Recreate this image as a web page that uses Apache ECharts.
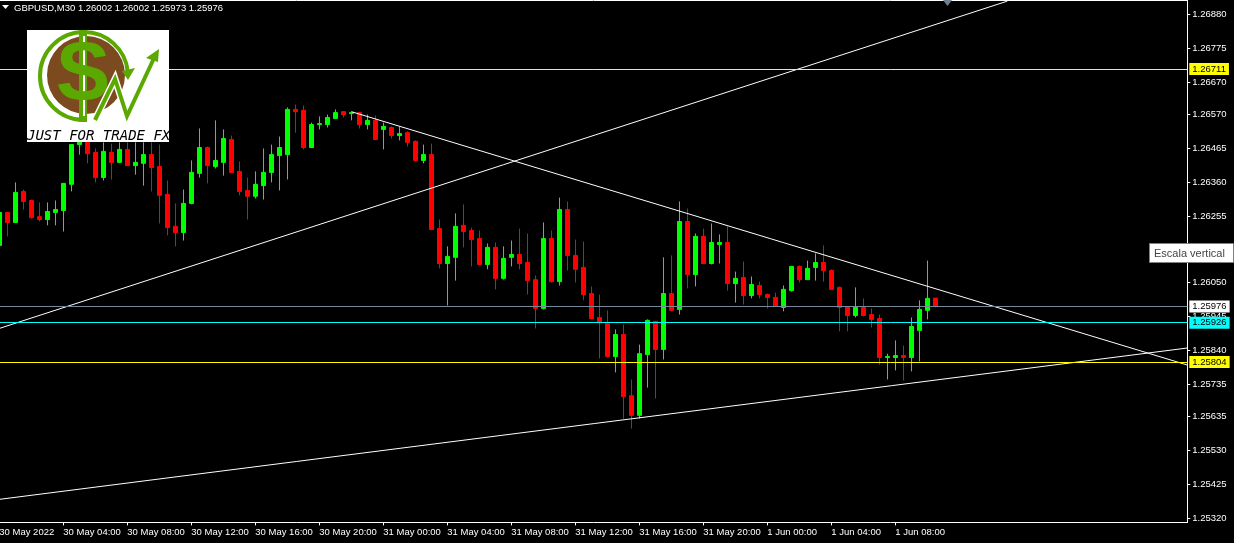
<!DOCTYPE html>
<html><head><meta charset="utf-8">
<style>html,body{margin:0;padding:0;background:#000}#c{width:1234px;height:543px}</style>
<script src="https://cdn.jsdelivr.net/npm/echarts@6/dist/echarts.min.js"></script>
</head><body><div id="c"></div>
<script>
const opens=[1.26165,1.26267,1.26236,1.26332,1.26304,1.26254,1.26245,1.26267,1.26273,1.26354,1.26477,1.26484,1.26453,1.26375,1.26453,1.26422,1.26462,1.26412,1.26419,1.26446,1.26409,1.26323,1.26224,1.26205,1.26295,1.26388,1.26468,1.26409,1.26422,1.26493,1.26394,1.26335,1.26317,1.26350,1.26391,1.26443,1.26446,1.26586,1.26583,1.26468,1.26539,1.26539,1.26558,1.26579,1.26573,1.26576,1.26539,1.26552,1.26524,1.26530,1.26505,1.26514,1.26487,1.26428,1.26446,1.26217,1.26109,1.26128,1.26227,1.26211,1.26186,1.26106,1.26159,1.26063,1.26128,1.26137,1.26112,1.26059,1.25970,1.26186,1.26053,1.26276,1.26134,1.26097,1.26016,1.25942,1.25923,1.25821,1.25889,1.25700,1.25639,1.25827,1.25930,1.25843,1.26016,1.25967,1.26239,1.26075,1.26193,1.26109,1.26168,1.26174,1.26047,1.26066,1.26010,1.26041,1.26013,1.26004,1.25973,1.26025,1.26100,1.26059,1.26097,1.26112,1.26087,1.26035,1.25976,1.25948,1.25973,1.25951,1.25939,1.25818,1.25818,1.25824,1.25818,1.25902,1.25964,1.26002];
const closes=[1.26267,1.26236,1.26329,1.26301,1.26251,1.26245,1.26270,1.26276,1.26357,1.26477,1.26484,1.26449,1.26375,1.26456,1.26422,1.26462,1.26412,1.26422,1.26446,1.26406,1.26320,1.26220,1.26205,1.26295,1.26391,1.26468,1.26412,1.26428,1.26496,1.26391,1.26332,1.26317,1.26354,1.26391,1.26446,1.26468,1.26586,1.26579,1.26468,1.26539,1.26542,1.26561,1.26576,1.26570,1.26576,1.26539,1.26552,1.26493,1.26533,1.26505,1.26511,1.26484,1.26428,1.26446,1.26214,1.26109,1.26131,1.26224,1.26208,1.26183,1.26106,1.26159,1.26063,1.26125,1.26137,1.26109,1.26056,1.25970,1.26186,1.26053,1.26276,1.26134,1.26091,1.26013,1.25939,1.25927,1.25821,1.25889,1.25697,1.25639,1.25830,1.25933,1.25843,1.26016,1.25964,1.26239,1.26075,1.26193,1.26109,1.26174,1.26174,1.26047,1.26063,1.26010,1.26044,1.26013,1.26004,1.25976,1.26029,1.26100,1.26059,1.26094,1.26112,1.26087,1.26029,1.25973,1.25948,1.25973,1.25948,1.25936,1.25818,1.25821,1.25824,1.25818,1.25914,1.25967,1.26001,1.25976];
const lows=[1.26165,1.26193,1.26236,1.26276,1.26248,1.26239,1.26227,1.26227,1.26208,1.26332,1.26446,1.26419,1.26360,1.26366,1.26369,1.26422,1.26412,1.26384,1.26350,1.26332,1.26233,1.26196,1.26162,1.26180,1.26292,1.26375,1.26357,1.26403,1.26381,1.26391,1.26320,1.26245,1.26310,1.26307,1.26360,1.26335,1.26369,1.26514,1.26462,1.26468,1.26524,1.26530,1.26558,1.26561,1.26552,1.26527,1.26524,1.26493,1.26462,1.26496,1.26490,1.26471,1.26425,1.26419,1.26214,1.26094,1.25979,1.26056,1.26159,1.26100,1.26106,1.26091,1.26029,1.26059,1.26100,1.26091,1.26013,1.25908,1.25967,1.26050,1.26041,1.26087,1.26050,1.25995,1.25939,1.25815,1.25818,1.25772,1.25629,1.25598,1.25629,1.25725,1.25691,1.25812,1.25961,1.25951,1.26032,1.26038,1.26109,1.26106,1.26109,1.26025,1.25988,1.25982,1.26001,1.26001,1.25970,1.25976,1.25961,1.26022,1.26050,1.26059,1.26056,1.26053,1.26029,1.25899,1.25899,1.25942,1.25945,1.25911,1.25796,1.25750,1.25778,1.25747,1.25775,1.25806,1.25936,1.25973];
const highs=[1.26267,1.26267,1.26360,1.26338,1.26307,1.26298,1.26298,1.26304,1.26357,1.26477,1.26496,1.26496,1.26465,1.26484,1.26480,1.26484,1.26484,1.26484,1.26484,1.26484,1.26477,1.26366,1.26295,1.26338,1.26428,1.26527,1.26471,1.26552,1.26524,1.26505,1.26425,1.26375,1.26394,1.26465,1.26477,1.26502,1.26592,1.26601,1.26598,1.26545,1.26564,1.26570,1.26586,1.26579,1.26576,1.26576,1.26570,1.26567,1.26545,1.26533,1.26533,1.26518,1.26490,1.26477,1.26480,1.26245,1.26162,1.26264,1.26292,1.26220,1.26211,1.26171,1.26174,1.26162,1.26180,1.26217,1.26202,1.26072,1.26236,1.26211,1.26313,1.26301,1.26183,1.26177,1.26038,1.26013,1.25964,1.25905,1.25920,1.25750,1.25858,1.25936,1.25930,1.26128,1.26134,1.26301,1.26279,1.26202,1.26217,1.26233,1.26199,1.26224,1.26084,1.26115,1.26069,1.26053,1.26016,1.26019,1.26041,1.26100,1.26103,1.26118,1.26140,1.26165,1.26091,1.26038,1.25976,1.26035,1.26001,1.25970,1.25951,1.25830,1.25871,1.25855,1.25942,1.25995,1.26118,1.26002];
const priceTicks=[1.26880,1.26775,1.26670,1.26570,1.26465,1.26360,1.26255,1.26150,1.26050,1.25945,1.25840,1.25735,1.25635,1.25530,1.25425,1.25320];
const trendA=[[0,1.25908],[126,1.26921]];
const trendB=[[44,1.26579],[148.5,1.25791]];
const trendC=[[0,1.25379],[148.5,1.25849]];
const levels=[
  {value:1.26711,color:'#ffff00',bg:'#ffff00',fg:'#000'},
  {value:1.25976,color:'#778899',bg:'#ffffff',fg:'#000'},
  {value:1.25926,color:'#00ffff',bg:'#00ffff',fg:'#000'},
  {value:1.25804,color:'#ffff00',bg:'#ffff00',fg:'#000'}
];
const months=['May','Jun'];
const categories=[];
for(let k=0;k<149;k++){
  const h=k/2, day=30+Math.floor(h/24), hr=Math.floor(h%24), mi=(k%2)?'30':'00';
  const dn=day>31?day-31:day, mo=day>31?months[1]:months[0];
  categories.push(k===0?'30 May 2022':dn+' '+mo+' '+String(hr).padStart(2,'0')+':'+mi);
}
const labelled=(i)=>i%8===0&&i<=112;
const FONT='"Liberation Sans",sans-serif';
const ohlc=opens.map((o,i)=>[o,closes[i],lows[i],highs[i]]);
const G='#5aa800';
const chart=echarts.init(document.getElementById('c'),null,{renderer:'canvas'});
const trend=d=>({type:'line',data:d,symbol:'none',silent:true,clip:true,z:4,lineStyle:{color:'#fff',width:1},animation:false});
chart.setOption({
  backgroundColor:'#000',animation:false,
  grid:{left:-4.7,top:0.4,width:1192,height:522,show:false,outerBoundsMode:'none',containLabel:false},
  xAxis:{type:'category',data:categories,boundaryGap:true,
    axisLine:{show:true,lineStyle:{color:'#fff',width:1}},
    axisTick:{show:true,length:3,alignWithLabel:true,interval:labelled,lineStyle:{color:'#fff'}},
    axisLabel:{interval:labelled,color:'#fff',fontFamily:FONT,fontSize:9.5,align:'left',margin:5,hideOverlap:false,showMinLabel:true},
    splitLine:{show:false}},
  yAxis:{type:'value',position:'right',min:1.253077,max:1.269233,scale:true,
    axisLine:{show:true,onZero:false,lineStyle:{color:'#fff',width:1}},
    axisTick:{show:true,length:3,customValues:priceTicks,lineStyle:{color:'#fff'}},
    axisLabel:{customValues:priceTicks,color:'#fff',fontFamily:FONT,fontSize:9.5,margin:5,padding:[2,0,0,0],formatter:v=>Number(v).toFixed(5)},
    splitLine:{show:false}},
  series:[
    {type:'candlestick',data:ohlc,barWidth:4,silent:true,z:3,
     itemStyle:{color:'#00ff00',color0:'#ff0000',borderColor:'#00ff00',borderColor0:'#ff0000',borderWidth:1},
     markLine:{silent:true,symbol:'none',animation:false,precision:5,
       data:levels.map(l=>({yAxis:l.value,lineStyle:{color:l.color,width:1,type:'solid'},
         label:{show:true,position:'end',distance:2,formatter:l.value.toFixed(5),color:l.fg,backgroundColor:l.bg,fontFamily:FONT,fontSize:9.5,padding:[1,3,1,3]}}))}},
    trend(trendA),trend(trendB),trend(trendC)
  ],
  graphic:[
    {type:'line',z:50,silent:true,shape:{x1:0,y1:0.5,x2:1187,y2:0.5},style:{stroke:'#fff',lineWidth:1}},
    {type:'polygon',z:50,silent:true,shape:{points:[[2,5],[9,5],[5.5,9]]},style:{fill:'#fff'}},
    {type:'text',z:50,silent:true,x:14,y:3,style:{text:'GBPUSD,M30 1.26002 1.26002 1.25973 1.25976',fill:'#fff',font:'9.5px '+FONT}},
    {type:'polygon',z:50,silent:true,shape:{points:[[943,0],[952,0],[947.5,6]]},style:{fill:'#708090'}},
    {type:'rect',z:60,silent:true,shape:{x:27,y:30,width:142,height:112},style:{fill:'#fff'}},
    {type:'circle',z:61,silent:true,shape:{cx:86,cy:75,r:39},style:{fill:'#7b4a1e'}},
    {type:'arc',z:62,silent:true,shape:{cx:84,cy:76,r:44,startAngle:Math.PI/2,endAngle:Math.PI*2-0.1,clockwise:true},style:{stroke:G,lineWidth:4,fill:'none'}},
    {type:'polygon',z:62,silent:true,shape:{points:[[122,71],[135,68],[128,80]]},style:{fill:G}},
    {type:'rect',z:62,silent:true,shape:{x:79,y:30,width:8,height:92},style:{fill:G}},
    {type:'rect',z:63,silent:true,shape:{x:83,y:36,width:2,height:80},style:{fill:'#fff'}},
    {type:'text',z:64,silent:true,x:83,y:76,style:{text:'S',fill:G,font:'bold 82px "Liberation Sans",sans-serif',textAlign:'center',textVerticalAlign:'middle'}},
    {type:'polyline',z:65,silent:true,shape:{points:[[95,120],[115,79],[127,116],[155,56]]},style:{stroke:'#fff',lineWidth:7,fill:'none'}},
    {type:'polyline',z:66,silent:true,shape:{points:[[95,120],[115,79],[127,116],[155,56]]},style:{stroke:G,lineWidth:4,fill:'none'}},
    {type:'polygon',z:66,silent:true,shape:{points:[[146,58],[159,49],[158,62]]},style:{fill:G}},
    {type:'text',z:67,silent:true,x:27,y:129,style:{text:'JUST FOR TRADE FX',fill:'#000',font:'italic 14px "DejaVu Sans Mono",monospace'}},
    {type:'rect',z:70,silent:true,shape:{x:1149.5,y:243.5,width:84,height:19},style:{fill:'#fff',stroke:'#808080',lineWidth:1}},
    {type:'text',z:71,silent:true,x:1154,y:248,style:{text:'Escala vertical',fill:'#444',font:'11px '+FONT}}
  ]
});
</script></body></html>
